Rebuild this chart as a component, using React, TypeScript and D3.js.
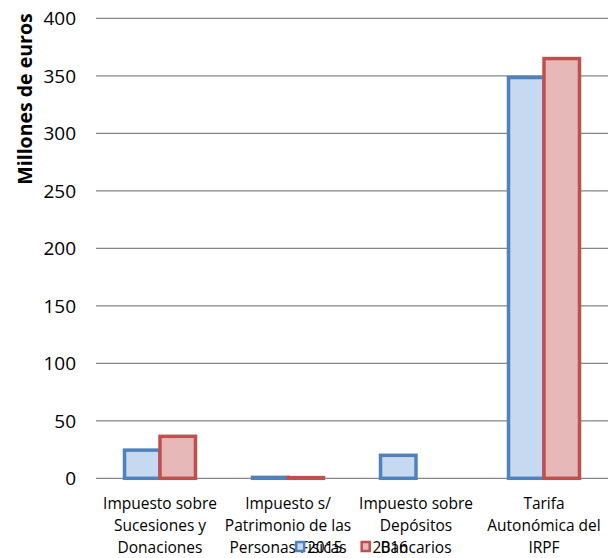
import React from "react";
import * as d3 from "d3";

const categories = [
  ["Impuesto sobre", "Sucesiones y", "Donaciones"],
  ["Impuesto s/", "Patrimonio de las", "Personas Físicas"],
  ["Impuesto sobre", "Depósitos", "Bancarios"],
  ["Tarifa", "Autonómica del", "IRPF"],
];
const series2015 = [24.5, 0.8, 20, 348.5];
const series2016 = [36.5, 0.6, 0, 365];
const yTicks = [0, 50, 100, 150, 200, 250, 300, 350, 400];
const seriesNames = ["2015", "2016"];

const W = 610;
const H = 558;
const FONT = "'Open Sans', sans-serif";

export default function App() {
  const left = 96;
  const right = 608;
  const top = 18.3;
  const bottom = 478.3;
  const groupW = 71;
  const y = d3.scaleLinear().domain([0, 400]).range([bottom, top]);
  const x = d3.scaleBand<number>().domain(d3.range(categories.length)).range([left, right]);
  const inner = d3.scaleBand<string>().domain(seriesNames).range([0, groupW]);
  const groupOffset = (x.bandwidth() - groupW) / 2;
  const strokes = ["#4F81BD", "#C0504D"];
  const fills = ["#C6D9F1", "#E6B9B8"];
  const data = [series2015, series2016];

  return (
    <svg width={W} height={H} style={{ position: "absolute", left: 0, top: 0, background: "#fff" }}>
      {yTicks.map((t) => (
        <g key={t}>
          <line x1={left} x2={right} y1={y(t)} y2={y(t)} stroke="#868686" strokeWidth={1.2} />
          <text x={76} y={y(t)} dy="0.36em" textAnchor="end" fontFamily={FONT} fontSize={19} fill="#000">
            {t}
          </text>
        </g>
      ))}
      {data.map((vals, si) =>
        vals.map((v, ci) => {
          if (v <= 0) return null;
          const bx = (x(ci) as number) + groupOffset + (inner(seriesNames[si]) as number);
          const bw = inner.bandwidth();
          return (
            <rect
              key={`${si}-${ci}`}
              x={bx}
              y={y(v)}
              width={bw}
              height={Math.max(0, y(0) - y(v))}
              fill={fills[si]}
              stroke={strokes[si]}
              strokeWidth={3.5}
            />
          );
        })
      )}
      {categories.map((lines, ci) => (
        <text
          key={ci}
          x={(x(ci) as number) + x.bandwidth() / 2}
          y={508.5}
          textAnchor="middle"
          fontFamily={FONT}
          fontSize={15.5}
          fill="#000"
        >
          {lines.map((l, li) => (
            <tspan key={li} x={(x(ci) as number) + x.bandwidth() / 2} dy={li === 0 ? 0 : 22.3}>
              {l}
            </tspan>
          ))}
        </text>
      ))}
      <text
        transform={`translate(32, 99) rotate(-90)`}
        textAnchor="middle"
        fontFamily={FONT}
        fontWeight="bold"
        fontSize={19.5}
        fill="#000"
      >
        Millones de euros
      </text>
      {seriesNames.map((n, i) => {
        const lx = i === 0 ? 295 : 360.5;
        return (
          <g key={n}>
            <rect x={lx + 1.2} y={542} width={8} height={9} fill={fills[i]} stroke={strokes[i]} strokeWidth={2.5} />
            <text x={lx + 12} y={553} fontFamily={FONT} fontSize={15.5} fill="#000">
              {n}
            </text>
          </g>
        );
      })}
    </svg>
  );
}
